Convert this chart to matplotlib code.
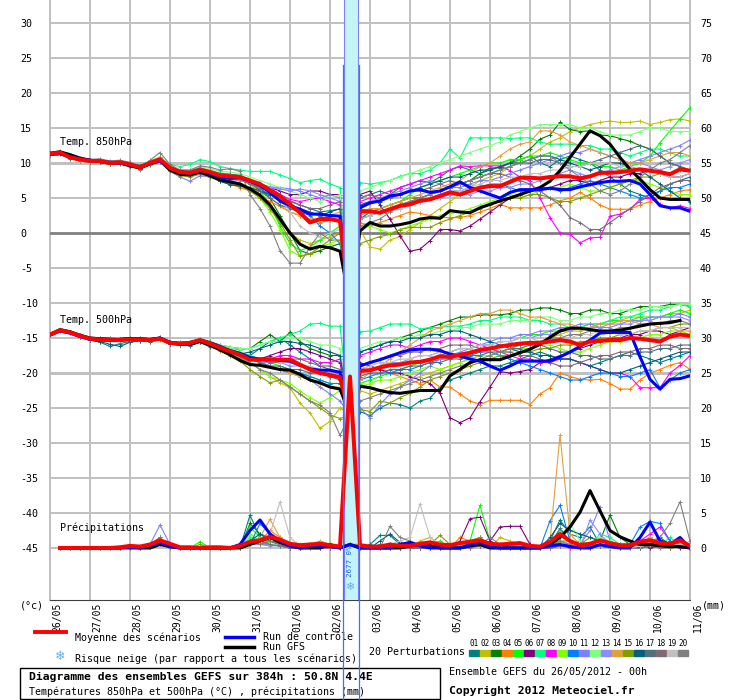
import numpy as np
import matplotlib
matplotlib.use("Agg")
import matplotlib.pyplot as plt
from matplotlib.lines import Line2D
from matplotlib.patches import Rectangle
from matplotlib.transforms import blended_transform_factory

plt.rcParams["font.family"] = ["DejaVu Sans Mono", "DejaVu Sans"]


def arr(s):
    return np.array(s.split(), dtype=float)


# ---- data (6-hourly steps, 26/05 00h .. 11/06 00h) ----
dates = ["26/05", "27/05", "28/05", "29/05", "30/05", "31/05", "01/06", "02/06", "03/06",
         "04/06", "05/06", "06/06", "07/06", "08/06", "09/06", "10/06", "11/06"]
members = ["%02d" % k for k in range(1, 21)]
member_colors = ["#008080", "#c0c000", "#008000", "#ff8000", "#00ff00", "#800080", "#00ff80",
                 "#ff00ff", "#80ff00", "#0080ff", "#8080ff", "#80ff80", "#8c8cff", "#e0a040",
                 "#80a000", "#006080", "#507080", "#806878", "#c0c0c0", "#808080"]

# 850 hPa temperature (degC)
t850_mean = arr("11.3 11.5 10.8 10.5 10.3 10.3 10.0 10.1 9.8 9.4 10.0 10.5 9.3 8.7 8.6 9.0 8.7 8.2 8.1 8.0 7.5 7.0 6.1 5.3 4.1 2.9 1.5 2.0 2.0 1.7 -10 3.1 3.1 2.9 3.4 3.9 4.1 4.6 4.8 5.3 5.8 5.5 6.0 6.5 6.7 6.7 7.3 7.9 7.9 7.8 8.0 8.1 8.1 7.8 8.1 8.6 8.6 8.7 8.9 9.1 8.9 8.7 8.4 9.1 8.9")
t850_ctrl = arr("11.2 11.3 10.9 10.6 10.4 10.2 10.1 10.0 9.7 9.5 9.9 10.3 9.2 8.8 8.5 8.9 8.5 8.0 7.8 7.9 7.4 6.8 5.8 4.6 3.9 3.4 2.7 2.7 2.5 2.4 -10 3.6 4.3 4.6 5.3 5.5 6.0 6.2 5.8 6.0 6.6 7.3 6.5 6.0 5.5 5.0 5.8 6.2 6.2 6.2 6.4 6.2 6.2 6.6 6.9 7.2 7.4 7.4 7.5 7.0 5.5 3.9 3.6 3.6 3.1")
t850_gfs = arr("11.4 11.6 11.2 10.7 10.4 10.2 10.0 10.0 9.6 9.3 9.9 10.4 9.0 8.4 8.3 8.7 8.2 7.6 7.3 7.0 6.3 5.4 4.0 2.0 0.0 -1.6 -2.3 -1.9 -2.1 -2.6 -10 0.3 1.5 1.0 1.0 1.2 1.5 2.0 2.2 2.1 3.2 3.0 2.9 3.6 4.1 4.6 5.0 5.5 6.0 6.5 7.4 8.9 10.8 12.7 14.6 13.9 12.7 10.8 9.1 7.7 6.2 5.0 4.8 4.8 4.8")
t850_members = [
    arr("11.2 11.4 10.6 10.4 10.2 10.1 9.8 10.0 9.6 9.2 9.8 10.2 9.0 8.3 8.2 8.6 8.0 7.4 7.0 6.7 6.5 6.0 5.5 5.0 4.6 4.0 3.5 3.0 3.2 3.4 -10 5.0 5.5 6.0 5.5 6.5 7.0 7.5 7.2 8.0 9.0 9.5 9.0 8.5 9.0 9.5 10.0 10.5 11.0 10.0 9.5 10.5 11.0 10.5 10.0 9.0 8.0 7.0 6.0 5.5 5.0 6.0 7.0 7.5 8.0"),
    arr("11.3 11.6 10.9 10.6 10.4 10.4 10.2 10.3 10.0 9.6 10.3 10.8 9.5 9.0 8.8 9.3 9.0 8.5 8.3 8.0 7.0 5.5 3.5 1.5 0.0 -1.0 -1.5 -1.0 -0.5 0.0 -10 0.5 -2.0 -2.3 -1.0 -0.5 0.5 1.5 2.5 3.5 4.5 5.5 6.5 7.5 8.0 8.5 9.5 10.5 11.0 12.0 13.0 13.6 14.5 15.0 15.5 15.8 16.0 15.8 15.8 16.0 15.5 15.8 16.2 16.3 16.0"),
    arr("11.2 11.5 10.7 10.3 10.1 10.4 10.1 10.2 9.9 9.5 10.2 10.6 9.4 8.9 8.8 9.2 8.8 8.4 8.3 8.0 7.2 6.5 5.0 2.5 0.0 -2.5 -3.0 -2.5 -2.0 -1.5 -10 2.0 3.0 3.5 4.0 4.5 5.0 5.0 5.5 6.0 6.5 7.0 7.5 8.5 9.3 9.3 10.0 11.0 12.0 13.4 14.0 15.8 14.8 14.5 14.6 14.0 13.9 13.5 13.1 12.5 12.0 11.0 10.0 9.5 9.0"),
    arr("11.3 11.4 10.8 10.5 10.3 10.2 9.9 10.1 9.8 9.4 10.0 10.6 9.4 8.8 8.7 9.1 8.5 7.8 7.0 6.5 6.0 5.2 4.5 3.8 3.0 2.5 2.0 1.5 1.8 2.0 -10 1.5 1.0 1.5 2.0 2.5 3.0 2.8 2.5 2.2 2.2 2.2 2.5 3.0 3.5 4.1 3.6 3.6 3.6 3.6 4.0 4.6 5.0 5.8 5.0 4.0 3.4 3.4 3.4 4.0 4.5 5.0 5.5 6.0 6.2"),
    arr("11.3 11.5 10.8 10.6 10.4 10.3 10.0 10.0 9.7 9.4 9.9 10.3 9.4 8.9 8.8 9.3 8.9 8.6 8.4 8.2 7.5 6.0 4.0 1.0 -1.5 -2.5 -2.0 -1.0 0.0 1.0 -10 3.5 3.0 3.5 4.0 4.5 5.5 6.5 7.0 7.5 8.0 8.5 9.0 9.5 10.0 10.0 10.5 10.5 11.0 11.0 11.5 11.0 10.5 10.0 10.0 9.5 9.5 9.0 9.5 10.0 11.0 12.9 14.6 16.3 17.9"),
    arr("11.4 11.5 10.9 10.6 10.4 10.4 10.2 10.2 9.9 9.5 10.1 10.5 9.4 8.9 8.8 9.2 8.8 8.4 8.3 8.2 7.6 7.0 6.5 6.0 5.5 5.5 6.0 6.0 5.5 5.5 -10 5.5 6.0 4.0 2.0 -0.4 -2.6 -2.3 -1.1 0.5 0.5 0.3 1.0 2.0 3.0 4.0 5.0 5.5 6.0 6.0 6.5 7.0 7.5 7.5 7.0 7.5 8.0 8.0 8.5 8.5 9.0 8.5 8.0 8.0 8.5"),
    arr("11.3 11.5 10.9 10.6 10.5 10.4 10.2 10.3 10.0 9.7 10.3 10.8 9.8 9.5 9.8 10.5 10.2 9.5 9.2 9.0 8.8 8.8 8.8 8.3 7.8 7.2 7.5 7.7 7.0 6.5 -10 7.2 7.0 7.2 7.5 8.1 8.5 8.5 9.0 10.0 12.0 10.7 13.6 13.6 13.6 13.6 13.5 13.6 13.6 13.0 12.7 12.7 12.7 12.5 12.5 12.0 12.0 11.5 11.0 11.5 12.0 12.0 11.5 11.0 11.0"),
    arr("11.2 11.4 10.8 10.5 10.3 10.3 10.1 10.1 9.8 9.5 10.1 10.5 9.3 8.8 8.7 9.1 8.7 8.3 8.2 8.1 7.5 7.0 6.5 5.5 4.8 4.5 4.8 5.0 4.5 4.0 -10 4.5 5.0 5.5 6.0 6.5 7.0 7.5 8.0 8.5 9.0 9.6 9.5 9.6 9.6 9.6 8.9 8.0 7.4 5.0 2.2 0.0 -0.2 -1.4 -0.7 -0.6 2.4 2.7 3.4 4.8 5.0 4.1 3.6 3.9 3.5"),
    arr("11.3 11.5 10.7 10.4 10.2 10.2 9.9 10.0 9.7 9.3 9.9 10.4 9.1 8.5 8.3 8.7 8.3 7.8 7.5 7.2 6.5 5.0 3.0 0.5 -2.5 -3.3 -3.0 -2.0 -1.5 -1.0 -10 0.5 1.0 0.5 0.0 0.5 1.0 1.5 2.0 2.5 2.8 3.0 3.5 4.0 4.5 5.0 5.5 5.0 5.5 6.0 6.5 6.5 7.0 6.5 6.0 6.0 6.5 7.0 7.5 7.5 7.0 6.5 6.0 5.5 5.5"),
    arr("11.2 11.3 10.7 10.4 10.2 10.2 10.0 10.0 9.7 9.3 9.8 10.2 9.0 8.5 8.4 8.8 8.4 8.0 7.8 7.6 7.0 6.3 5.5 4.5 3.5 3.0 2.5 1.0 0.0 -1.5 -10 2.0 2.5 3.0 3.5 4.0 4.5 4.5 5.0 5.5 6.0 6.0 6.5 6.5 7.0 7.0 6.5 6.0 6.0 6.5 6.5 6.0 6.5 7.0 7.5 7.0 6.5 6.0 5.5 5.0 5.5 6.0 6.5 6.5 7.0"),
    arr("11.3 11.4 10.8 10.4 10.2 10.2 9.9 10.0 9.6 9.2 9.8 10.2 8.8 8.0 7.4 8.2 8.0 7.7 7.6 7.5 7.3 7.0 6.6 6.5 6.3 6.0 5.5 5.0 5.5 5.0 -10 4.0 4.5 5.0 5.5 6.0 6.5 7.0 7.5 7.0 6.5 6.5 7.0 7.5 7.5 8.0 8.5 9.0 9.5 10.0 10.5 11.0 11.5 11.5 12.0 11.5 11.0 10.5 10.0 10.5 11.0 11.5 12.0 12.5 13.3"),
    arr("11.3 11.5 10.8 10.5 10.3 10.3 10.1 10.2 9.9 9.5 10.1 10.6 9.5 9.0 9.0 9.5 9.2 8.8 8.7 8.5 8.0 7.5 7.0 6.5 6.0 5.5 5.0 4.5 5.0 5.5 -10 6.0 6.5 7.0 7.5 8.0 8.5 9.0 9.5 10.0 10.5 11.0 11.5 12.0 12.5 13.0 14.0 14.5 15.0 15.5 15.5 15.5 15.5 15.0 15.0 14.5 14.0 14.0 14.0 14.5 15.0 15.0 14.5 14.5 14.5"),
    arr("11.2 11.4 10.8 10.5 10.4 10.3 10.0 10.1 9.8 9.4 9.9 10.3 9.2 8.6 8.5 8.8 8.5 8.1 8.0 7.8 7.0 6.5 6.5 6.3 6.0 6.3 6.0 5.5 5.0 4.5 -10 2.5 3.0 3.0 3.5 3.5 4.0 4.5 5.0 5.0 5.5 5.5 5.5 6.0 6.0 6.5 6.5 7.0 7.0 7.5 8.0 8.5 9.0 8.5 8.0 8.5 9.0 9.5 10.0 10.0 9.5 9.0 9.5 10.0 10.5"),
    arr("11.3 11.5 10.8 10.5 10.3 10.4 10.1 10.2 9.9 9.6 10.2 10.9 9.6 9.0 8.9 9.3 8.8 8.2 7.9 7.6 7.0 6.0 5.0 4.0 3.0 2.5 2.0 2.0 2.5 3.0 -10 3.0 3.5 3.5 4.0 4.5 5.0 5.5 6.0 6.5 7.0 7.5 8.5 9.5 10.0 11.0 12.0 12.7 13.0 14.6 14.6 14.0 13.0 12.5 12.0 11.5 11.0 10.5 10.0 10.0 10.5 11.0 11.5 11.5 11.0"),
    arr("11.2 11.4 10.7 10.3 10.1 10.1 9.8 9.9 9.5 9.1 9.7 10.1 8.8 8.2 8.0 8.4 8.0 7.5 7.2 6.8 6.0 5.0 3.5 1.5 -1.0 -3.3 -3.0 -2.0 -1.0 -1.0 -10 -1.5 -1.0 -0.5 -0.2 0.5 0.8 0.8 0.8 1.5 2.0 2.5 3.0 3.5 4.0 4.5 5.0 5.0 5.5 5.5 5.0 4.5 4.5 5.0 5.5 6.0 6.5 7.0 7.5 8.0 8.0 8.5 8.5 9.0 9.0"),
    arr("11.3 11.4 10.7 10.4 10.2 10.2 9.9 10.0 9.6 9.2 9.8 10.3 9.0 8.4 8.3 8.6 8.1 7.4 6.9 6.7 6.5 6.0 5.5 5.0 4.0 3.5 3.0 2.5 3.0 3.5 -10 4.0 4.5 4.5 5.0 5.5 6.0 6.5 7.0 7.5 8.0 8.0 8.5 9.0 9.0 9.5 10.0 10.0 10.5 11.0 11.0 10.5 10.0 9.5 9.0 9.5 10.0 10.0 9.5 9.0 8.0 7.0 6.0 5.0 4.5"),
    arr("11.4 11.6 10.9 10.6 10.5 10.4 10.2 10.3 10.0 9.6 10.2 10.7 9.5 8.9 8.9 9.3 8.9 8.5 8.4 8.2 7.3 6.0 5.0 4.0 3.5 3.0 2.8 2.5 2.5 2.5 -10 2.0 2.5 3.0 3.5 4.0 4.5 5.0 5.5 6.0 6.5 7.0 7.5 8.0 8.5 9.0 9.5 10.0 10.0 10.5 10.5 10.0 9.5 9.5 10.0 10.5 11.0 11.5 12.0 12.5 12.0 11.0 10.0 9.5 9.0"),
    arr("11.3 11.5 10.9 10.5 10.3 10.3 10.0 10.1 9.7 9.3 9.9 10.4 9.2 8.6 8.5 8.9 8.6 8.1 7.9 7.7 7.0 6.5 6.0 5.0 4.5 4.0 3.5 3.5 4.0 4.5 -10 5.0 5.5 5.0 5.0 5.5 6.0 6.0 6.5 7.0 7.5 7.0 7.5 8.0 8.5 8.5 8.0 7.5 7.0 6.0 5.0 4.0 2.2 1.5 0.5 0.5 1.5 2.5 3.5 4.5 5.5 6.5 7.0 7.5 7.5"),
    arr("11.3 11.5 10.8 10.5 10.3 10.3 10.0 10.1 9.8 9.4 10.0 10.5 9.3 8.7 8.6 9.0 8.7 8.2 8.1 8.0 7.5 7.0 6.0 5.0 3.0 1.0 0.0 -0.5 0.0 0.5 -10 2.0 2.5 3.0 3.0 3.5 4.0 4.5 5.0 5.5 6.0 6.0 6.5 7.0 7.5 7.5 8.0 8.0 8.5 8.5 9.0 9.0 9.5 9.5 10.0 10.0 10.0 9.5 9.5 9.0 9.0 8.5 8.0 8.0 8.5"),
    arr("11.4 11.7 11.0 10.7 10.5 10.6 10.3 10.4 10.1 9.0 10.4 11.5 9.8 9.0 9.0 9.6 9.4 9.0 9.2 8.8 5.5 3.5 1.0 -2.5 -4.3 -4.3 -2.0 0.0 -1.0 0.0 -10 1.0 1.5 2.0 3.0 4.0 4.5 5.0 5.5 6.0 6.5 7.0 7.5 8.0 8.5 9.0 9.5 10.0 10.5 11.0 11.0 10.0 9.0 8.0 7.0 6.0 5.5 6.0 7.0 8.0 9.0 10.0 10.5 11.5 12.5"),
]

# 500 hPa temperature (degC)
t500_mean = arr("-14.5 -13.9 -14.2 -14.7 -15.1 -15.2 -15.3 -15.3 -15.2 -15.2 -15.3 -15.1 -15.7 -15.8 -15.7 -15.3 -15.8 -16.4 -16.9 -17.4 -18.1 -18.1 -18.1 -18.1 -18.1 -18.8 -19.5 -20.0 -20.3 -20.6 -26 -19.7 -19.6 -19.2 -18.9 -18.8 -18.5 -18.4 -18.1 -17.6 -17.7 -17.4 -17.1 -16.7 -16.5 -16.2 -16.0 -15.8 -15.7 -15.7 -15.5 -15.3 -15.5 -16.0 -15.5 -15.4 -15.3 -15.3 -15.0 -15.1 -15.3 -15.5 -14.8 -14.5 -14.7")
t500_ctrl = arr("-14.6 -14.0 -14.3 -14.8 -15.2 -15.3 -15.3 -15.2 -15.1 -15.2 -15.3 -15.0 -15.6 -15.8 -15.7 -15.3 -15.7 -16.2 -16.8 -17.2 -17.8 -18.0 -18.0 -18.2 -18.3 -18.9 -19.4 -19.6 -19.6 -19.9 -26 -19.0 -18.5 -18.1 -17.6 -17.1 -16.7 -16.6 -16.6 -16.8 -17.3 -17.6 -18.0 -18.3 -19.0 -19.6 -19.0 -18.3 -18.3 -18.3 -18.3 -17.7 -17.0 -16.2 -15.3 -14.3 -14.2 -14.2 -14.2 -17.7 -20.9 -22.3 -20.9 -20.8 -20.4")
t500_gfs = arr("-14.5 -13.8 -14.1 -14.6 -15.0 -15.1 -15.2 -15.2 -15.1 -15.1 -15.2 -15.0 -15.7 -15.9 -15.9 -15.5 -16.0 -16.7 -17.4 -18.2 -18.8 -18.9 -19.2 -19.5 -19.6 -20.2 -21.0 -21.4 -22.0 -22.3 -26 -21.9 -22.1 -22.5 -22.8 -22.9 -22.7 -22.5 -22.5 -22.5 -20.4 -19.5 -18.5 -18.1 -18.1 -18.1 -17.6 -17.1 -16.6 -15.9 -14.9 -14.0 -13.6 -13.6 -13.8 -14.0 -14.0 -13.9 -13.6 -13.3 -13.0 -12.9 -12.8 -12.5 nan")
t500_members = [
    arr("-14.5 -13.9 -14.3 -14.8 -15.3 -15.6 -16.2 -15.8 -15.5 -15.4 -15.4 -15.2 -15.8 -16.0 -16.1 -15.6 -16.3 -16.7 -17.0 -17.3 -17.5 -16.5 -15.5 -15.0 -16.0 -17.0 -18.0 -19.0 -19.5 -20.0 -26 -25.5 -26.1 -25.0 -24.3 -24.5 -25.0 -24.0 -23.6 -22.0 -21.0 -20.5 -20.0 -19.5 -19.0 -19.0 -18.5 -18.0 -17.5 -17.0 -17.5 -18.0 -18.0 -18.5 -19.0 -18.5 -18.0 -17.5 -17.0 -17.5 -18.0 -18.5 -18.0 -17.5 -17.0"),
    arr("-14.5 -13.9 -14.2 -14.7 -15.0 -15.1 -15.2 -15.3 -15.3 -15.4 -15.5 -15.3 -15.9 -16.0 -15.9 -15.5 -16.0 -16.7 -17.4 -18.0 -18.5 -19.5 -20.5 -21.4 -22.1 -24.3 -25.7 -27.9 -26.9 -25.0 -26 -22.5 -23.0 -22.5 -22.0 -21.5 -21.0 -20.5 -20.0 -19.5 -19.0 -18.5 -18.0 -17.5 -17.5 -17.0 -16.5 -16.0 -15.5 -15.5 -15.0 -14.5 -14.0 -14.0 -13.5 -13.0 -13.0 -12.5 -12.0 -12.0 -12.5 -12.0 -11.5 -11.5 -11.0"),
    arr("-14.5 -13.9 -14.2 -14.6 -15.0 -15.0 -15.0 -15.1 -15.0 -15.0 -15.1 -14.9 -15.5 -15.6 -15.5 -15.1 -15.5 -16.0 -16.3 -16.5 -16.5 -15.5 -14.5 -15.5 -14.2 -15.5 -16.5 -17.0 -17.5 -17.5 -26 -17.0 -16.5 -16.0 -15.5 -15.0 -14.5 -14.0 -13.5 -13.0 -12.5 -12.0 -12.0 -11.7 -11.7 -11.7 -11.5 -11.0 -11.0 -10.7 -10.7 -11.0 -11.5 -11.5 -11.0 -11.0 -11.5 -11.5 -11.0 -10.5 -10.5 -10.5 -10.2 -10.2 -10.5"),
    arr("-14.5 -13.9 -14.1 -14.6 -15.0 -15.1 -15.1 -15.2 -15.1 -15.1 -15.2 -15.0 -15.6 -15.7 -15.6 -15.2 -15.7 -16.3 -16.8 -17.3 -17.8 -18.0 -18.3 -18.5 -18.3 -19.0 -19.5 -20.0 -20.5 -21.0 -26 -19.5 -19.0 -19.5 -20.0 -20.5 -21.0 -21.5 -21.0 -22.0 -22.0 -23.0 -24.0 -24.5 -23.9 -23.9 -23.9 -23.9 -24.5 -23.0 -22.1 -20.0 -20.5 -20.9 -21.0 -20.9 -21.5 -22.3 -22.3 -21.0 -20.0 -19.5 -18.9 -18.5 -19.5"),
    arr("-14.5 -13.9 -14.2 -14.7 -15.1 -15.1 -15.2 -15.2 -15.1 -15.1 -15.2 -15.0 -15.6 -15.7 -15.6 -15.2 -15.7 -16.2 -16.6 -17.0 -17.5 -18.0 -18.5 -19.0 -19.5 -20.0 -20.5 -21.0 -21.5 -21.5 -26 -21.5 -21.0 -20.5 -20.0 -19.5 -19.0 -18.5 -18.0 -17.5 -17.0 -16.5 -16.5 -16.0 -16.0 -15.5 -15.5 -15.0 -14.5 -14.5 -14.0 -14.0 -13.5 -13.5 -13.0 -13.0 -12.5 -12.5 -12.5 -12.0 -12.0 -12.0 -11.5 -11.0 -11.5"),
    arr("-14.5 -13.9 -14.2 -14.7 -15.1 -15.3 -15.4 -15.4 -15.3 -15.3 -15.4 -15.2 -15.8 -15.9 -15.8 -15.4 -15.9 -16.5 -17.0 -17.5 -17.8 -18.0 -17.5 -17.0 -16.5 -16.5 -17.0 -17.5 -18.0 -18.5 -26 -18.5 -19.0 -19.5 -20.0 -20.0 -20.5 -21.0 -21.5 -22.9 -26.4 -27.1 -26.4 -24.1 -22.0 -19.8 -20.0 -19.8 -19.5 -18.5 -18.0 -17.5 -17.0 -16.5 -16.0 -15.5 -15.0 -15.0 -14.5 -14.5 -14.0 -14.0 -14.5 -14.0 -13.5"),
    arr("-14.5 -13.9 -14.2 -14.7 -15.1 -15.2 -15.3 -15.3 -15.2 -15.2 -15.3 -15.1 -15.7 -15.8 -15.7 -15.3 -15.8 -16.2 -16.5 -16.7 -16.5 -16.0 -15.5 -15.0 -14.5 -14.0 -13.0 -12.9 -13.3 -13.3 -26 -14.1 -14.0 -13.5 -13.0 -13.0 -13.0 -13.7 -13.5 -13.5 -13.3 -13.3 -13.0 -12.5 -12.5 -12.0 -12.0 -12.0 -12.5 -12.5 -13.0 -13.0 -13.5 -13.5 -13.0 -13.0 -12.5 -12.0 -12.0 -11.5 -11.0 -11.0 -10.5 -10.2 -10.5"),
    arr("-14.5 -13.9 -14.2 -14.7 -15.2 -15.3 -15.3 -15.4 -15.2 -15.2 -15.3 -15.1 -15.7 -15.8 -15.8 -15.4 -15.9 -16.5 -17.0 -17.5 -18.0 -18.0 -18.0 -17.5 -17.5 -18.0 -18.0 -18.5 -18.5 -18.0 -26 -17.5 -17.0 -16.5 -16.0 -16.0 -16.5 -16.0 -15.5 -15.5 -15.0 -15.0 -15.5 -16.0 -16.5 -17.0 -17.5 -18.0 -18.0 -18.5 -18.5 -18.0 -18.0 -18.5 -19.0 -19.5 -20.0 -20.0 -20.5 -22.1 -22.1 -22.1 -20.0 -18.9 -17.5"),
    arr("-14.5 -13.9 -14.2 -14.7 -15.1 -15.2 -15.2 -15.3 -15.2 -15.2 -15.3 -15.1 -15.7 -15.9 -15.9 -15.5 -16.0 -16.6 -17.2 -17.8 -18.5 -19.5 -20.5 -21.0 -21.5 -22.6 -23.5 -24.3 -23.5 -22.5 -26 -22.0 -21.5 -21.0 -21.0 -20.5 -20.0 -19.5 -19.0 -19.5 -19.0 -18.5 -18.0 -17.5 -17.5 -17.0 -17.0 -16.5 -16.5 -16.0 -16.0 -16.5 -17.0 -17.0 -16.5 -16.0 -15.5 -15.5 -15.0 -15.0 -14.5 -14.5 -14.0 -14.0 -14.5"),
    arr("-14.5 -13.9 -14.2 -14.7 -15.1 -15.2 -15.3 -15.3 -15.2 -15.2 -15.3 -15.1 -15.7 -15.8 -15.7 -15.3 -15.8 -16.4 -16.9 -17.4 -18.0 -18.5 -19.0 -19.5 -20.0 -20.0 -20.5 -21.0 -21.5 -21.5 -26 -21.0 -20.5 -20.0 -20.0 -19.5 -19.5 -19.0 -18.5 -18.0 -18.0 -17.5 -17.5 -17.0 -17.0 -17.5 -18.0 -18.5 -19.0 -19.5 -20.0 -20.5 -21.0 -21.0 -20.5 -20.0 -20.0 -20.5 -20.5 -20.0 -19.5 -22.1 -21.0 -20.0 -19.5"),
    arr("-14.5 -13.9 -14.2 -14.7 -15.1 -15.2 -15.3 -15.3 -15.2 -15.2 -15.3 -15.1 -15.7 -15.8 -15.7 -15.4 -16.0 -16.6 -17.1 -17.6 -18.0 -18.5 -19.0 -19.5 -20.0 -20.5 -21.0 -22.0 -23.0 -24.0 -26 -25.0 -26.4 -24.5 -23.0 -22.0 -21.0 -20.0 -19.0 -18.0 -17.5 -17.0 -16.5 -16.0 -15.5 -15.0 -15.0 -14.5 -14.5 -14.0 -14.0 -13.5 -13.5 -13.0 -13.0 -13.5 -13.5 -13.0 -12.5 -12.5 -12.0 -12.0 -12.0 -11.5 -12.0"),
    arr("-14.5 -13.9 -14.2 -14.7 -15.1 -15.2 -15.3 -15.3 -15.2 -15.2 -15.3 -15.1 -15.7 -15.8 -15.7 -15.3 -15.7 -16.0 -16.3 -16.5 -16.5 -16.0 -15.5 -15.5 -15.0 -15.0 -15.5 -16.0 -16.0 -16.5 -26 -16.5 -16.0 -15.5 -15.5 -15.0 -15.0 -14.5 -14.5 -14.0 -14.0 -13.5 -13.5 -13.0 -13.0 -13.0 -12.5 -12.5 -12.5 -12.0 -12.0 -12.5 -12.5 -12.0 -12.0 -11.5 -11.5 -11.0 -11.0 -11.0 -10.5 -10.5 -10.5 -10.2 -10.2"),
    arr("-14.4 -13.9 -14.3 -14.8 -15.2 -15.1 -15.2 -15.4 -15.3 -15.1 -15.2 -15.0 -15.8 -15.9 -15.6 -15.2 -15.9 -16.5 -17.0 -17.3 -18.0 -18.5 -18.5 -18.5 -19.0 -19.0 -19.5 -19.5 -20.0 -20.0 -26 -19.5 -19.5 -19.0 -18.5 -18.5 -18.0 -17.5 -17.5 -17.0 -17.0 -16.5 -16.5 -16.0 -16.0 -15.5 -15.5 -15.0 -15.0 -14.5 -14.5 -14.0 -14.0 -13.5 -13.5 -13.5 -13.0 -13.0 -13.0 -12.5 -12.5 -12.0 -12.0 -12.0 -12.5"),
    arr("-14.5 -13.9 -14.2 -14.7 -15.0 -15.1 -15.2 -15.2 -15.1 -15.1 -15.2 -15.0 -15.6 -15.7 -15.6 -15.2 -15.7 -16.3 -16.8 -17.4 -18.0 -18.5 -19.0 -19.5 -20.0 -20.5 -21.0 -21.5 -22.0 -22.0 -26 -21.0 -20.0 -19.0 -18.0 -17.0 -16.0 -15.0 -14.0 -13.5 -13.0 -12.5 -12.0 -11.5 -11.5 -11.0 -11.0 -11.5 -12.0 -12.0 -12.5 -13.0 -13.0 -13.5 -13.5 -13.0 -13.0 -12.5 -12.5 -13.0 -13.0 -13.5 -13.5 -14.0 -14.0"),
    arr("-14.5 -13.9 -14.2 -14.7 -15.1 -15.2 -15.2 -15.3 -15.2 -15.3 -15.4 -15.2 -15.8 -16.0 -16.0 -15.6 -16.1 -16.8 -17.5 -18.3 -19.5 -20.5 -21.4 -21.0 -22.0 -23.0 -24.0 -25.0 -26.0 -26.5 -26 -25.2 -25.5 -24.0 -24.3 -23.5 -22.9 -22.0 -21.0 -20.5 -20.0 -19.5 -19.0 -18.5 -18.0 -17.5 -17.5 -17.0 -17.0 -16.5 -16.5 -16.0 -16.0 -15.5 -15.5 -15.0 -15.0 -14.5 -14.5 -14.0 -14.0 -13.5 -13.5 -13.0 -13.0"),
    arr("-14.5 -13.9 -14.2 -14.8 -15.3 -15.5 -15.9 -16.2 -15.6 -15.4 -15.5 -15.2 -15.9 -16.0 -16.0 -15.6 -16.1 -16.6 -17.0 -17.3 -17.0 -16.5 -16.0 -15.5 -15.5 -15.8 -16.0 -16.5 -17.0 -17.5 -26 -17.0 -16.5 -16.0 -15.5 -15.5 -15.0 -15.0 -14.5 -14.5 -14.0 -14.0 -14.5 -15.0 -15.5 -16.0 -16.5 -17.0 -17.0 -17.5 -17.5 -18.0 -18.0 -18.5 -19.0 -19.5 -20.0 -20.0 -19.5 -19.0 -18.5 -18.0 -17.5 -17.0 -17.0"),
    arr("-14.6 -14.0 -14.2 -14.6 -15.0 -15.2 -15.3 -15.2 -15.1 -15.3 -15.4 -15.2 -15.6 -15.7 -15.8 -15.4 -15.7 -16.3 -16.8 -17.5 -18.0 -18.5 -19.0 -19.0 -19.5 -19.5 -20.0 -20.0 -20.5 -21.0 -26 -20.5 -20.0 -20.0 -19.5 -19.5 -19.0 -19.0 -18.5 -18.5 -18.0 -18.0 -17.5 -17.5 -17.0 -17.0 -16.5 -16.5 -16.0 -16.0 -16.5 -17.0 -17.0 -17.5 -17.5 -18.0 -18.0 -17.5 -17.5 -17.0 -17.0 -16.5 -16.5 -16.0 -16.0"),
    arr("-14.5 -13.8 -14.2 -14.7 -15.1 -15.2 -15.3 -15.3 -15.3 -15.2 -15.3 -15.2 -15.7 -15.8 -15.7 -15.4 -15.8 -16.4 -16.9 -17.4 -18.0 -18.0 -18.5 -18.5 -18.0 -18.0 -18.5 -19.0 -19.0 -19.5 -26 -19.0 -18.5 -18.0 -17.5 -17.5 -17.0 -17.0 -16.5 -16.5 -16.0 -16.0 -16.0 -16.5 -16.5 -17.0 -17.0 -17.5 -17.5 -18.0 -18.5 -19.0 -19.0 -18.5 -18.0 -17.5 -17.5 -17.0 -17.0 -16.5 -16.5 -16.0 -16.0 -16.5 -16.5"),
    arr("-14.5 -13.9 -14.2 -14.7 -15.1 -15.2 -15.3 -15.3 -15.2 -15.2 -15.3 -15.1 -15.7 -15.8 -15.7 -15.3 -15.8 -16.4 -16.9 -17.4 -18.0 -18.0 -18.0 -18.5 -18.5 -19.0 -19.0 -19.5 -19.5 -20.0 -26 -19.5 -19.0 -18.5 -18.5 -18.0 -18.0 -17.5 -17.5 -17.0 -17.0 -16.5 -16.5 -16.0 -16.0 -15.5 -15.5 -15.0 -15.0 -15.5 -15.5 -15.0 -15.0 -14.5 -14.5 -14.0 -14.0 -14.5 -14.5 -14.0 -14.0 -13.5 -13.5 -13.5 -13.5"),
    arr("-14.5 -13.9 -14.2 -14.7 -15.1 -15.2 -15.3 -15.3 -15.2 -15.2 -15.3 -15.1 -15.7 -15.8 -15.7 -15.3 -15.8 -16.4 -17.0 -17.8 -18.5 -19.5 -20.0 -21.0 -22.0 -23.0 -24.0 -24.6 -25.7 -28.9 -26 -24.0 -23.5 -23.0 -22.5 -22.0 -21.5 -21.0 -20.5 -20.0 -19.5 -19.0 -18.5 -18.0 -17.5 -17.0 -16.5 -16.0 -15.5 -15.5 -15.0 -15.0 -14.5 -14.5 -14.0 -14.0 -14.0 -13.5 -13.5 -13.0 -13.0 -13.0 -12.5 -12.5 -13.0"),
]

# precipitation (mm per 6h)
pr_mean = arr("nan 0 0 0  0 0 0 0.1  0.3 0.2 0.5 1.1  0.6 0.1 0.1 0  0.1 0.1 0 0.3  0.9 1.1 1.6 1.2  0.6 0.4 0.5 0.6  0.4 0.2 24.5 0.4  0.2 0.2 0.5 0.3  0.3 0.6 0.8 0.5  0.4 0.7 0.9 1.1  0.6 0.5 0.6 0.7  0.3 0.2 0.9 2.0  1.0 0.4 0.6 1.1  0.7 0.4 0.4 0.9  1.1 0.7 0.6 1.1  0.3")
pr_ctrl = arr("nan 0 0 0  0 0 0 0  0 0 0.3 0.8  0.2 0 0 0  0 0 0 0.5  2.5 4.0 2.0 1.0  0.3 0 0.2 0.3  0.2 0 0.5 0  0 0 0 0.5  0.8 0.3 0 0  0 0 0.5 0.8  0.2 0 0 0  0 0 0.3 0.5  0.2 0 0 0.5  0.2 0 0 1.5  3.7 1.0 0.5 1.5  0")
pr_gfs = arr("nan 0 0 0  0 0 0 0  0.2 0 0 0.5  0.2 0 0 0  0 0 0 0  0.5 1.0 1.5 0.8  0.3 0 0 0  0.5 0 0.5 0  0 0 0 0  0.3 0.5 0.5 0  0 0 0.3 0.5  0 0 0 0  0 0 0.5 1.5  3.0 5.1 8.2 5.3  2.5 1.6 1.0 0.5  0.5 0.3 0.2 0.2  0")
pr_members = [
    arr("nan 0 0 0  0 0 0 0  0 0 0.5 1.5  0 0 0 0  0 0 0 0  4.7 1.5 0.8 1.0  0.5 0 0.3 0  0 0 0.5 0  0.5 1.8 1.8 0.5  0 0 0 0  0 0.5 1.0 1.5  0.3 0 0 0  0 0 1.0 4.0  2.0 1.5 3.0 0.5  0 0.5 0 0  1.0 0.5 0 0.3  0"),
    arr("nan 0 0 0  0 0 0 0  0 0.3 0.5 1.0  0.3 0 0 0  0 0 0 0  1.0 0.5 1.5 0.8  0.3 0.5 0.5 0.8  0.5 0 0.5 0.5  0 0 0.5 0.3  0 1.0 1.5 0.5  0 0 0.5 0.5  0 1.5 1.0 0.5  0 0 0.5 0.5  0.5 0 0.3 0.5  0.3 0 0 0.5  0.5 1.5 0 0.5  0"),
    arr("nan 0 0 0  0 0 0 0  0 0 0.3 0.8  0 0 0 0  0 0 0 0  3.5 2.0 1.5 1.0  0.5 0 0 0.3  0.3 0 0.5 0  0 0 0 0  0 0.5 0 0  0.3 0 0.5 1.0  0.5 0 0 0.3  0 0 0.5 1.0  0.5 1.0 0.5 1.0  4.7 1.5 0.5 0  0.3 1.5 0.5 0.3  0"),
    arr("nan 0 0 0  0 0 0 0  0 0 0.3 1.0  0 0 0 0  0 0 0 0  0.5 1.0 2.5 1.5  0.5 0.3 0.5 1.0  0.5 0 0.5 0.3  0 0 0.5 0  0 0.3 0.5 0  0 1.5 1.0 0.5  0 0 0.5 0.3  0 0 0.3 0.8  0.5 0 0.5 0.3  0 0 0.3 0.5  1.5 0.5 0.3 0.3  0"),
    arr("nan 0 0 0  0 0 0 0  0 0 0.5 1.0  0.3 0 0 0.9  0 0 0 0.3  3.0 1.5 1.0 0.5  0.3 0 0.5 0.5  0.5 0 0.5 0  0 0 0 0.5  0 0 0.5 1.0  0 0.3 1.0 6.1  1.0 0 0 0  0 0 0.3 1.0  0.5 0 0.3 0.5  0.3 0 0 0.3  0.5 0.3 0.5 0.8  0"),
    arr("nan 0 0 0  0 0 0 0  0 0 0.2 0.5  0 0 0 0  0 0 0 0  0.5 1.0 0.5 0.3  0 0 0.3 0.5  0.3 0 0.5 0.5  0 0 0 0  0.3 0.5 0.8 0  0 1.0 4.2 4.4  1.0 3.0 3.1 3.1  0.5 0 0 0.3  0.5 0 0 0.3  0 0 0.3 0.5  0 0.3 0.5 0  0"),
    arr("nan 0 0 0  0 0 0 0  0 0 0.3 0.8  0 0 0 0  0 0 0 0  1.5 1.0 1.0 0.5  0.3 0 0 0.5  0.5 0 0.5 0  0 0 0.3 0.3  0 0 0.5 0.3  0 0 0.5 0.5  0 0 0.5 0.3  0 0 0.5 2.5  1.0 0.5 0.3 2.0  1.5 0.5 0 0.3  0.5 0.3 1.5 0.5  0"),
    arr("nan 0 0 0  0 0 0 0  0 0 0.3 0.5  0 0 0 0  0 0 0 0  0.5 0.5 1.0 0.5  0.3 0 0 0  0 0 0.5 0  0 0 0 0.3  0.5 0 0 0  0 0 0.3 0.3  0 0 0 0  0 0 0.3 0.5  0 0 0.3 0.5  0.5 0 0 1.0  2.0 3.0 1.0 0.5  0"),
    arr("nan 0 0 0  0 0 0 0  0 0 0.5 1.5  0 0 0 0  0 0 0 0  2.0 1.0 0.8 0.5  0.5 0 0.5 0.8  0.5 0 0.5 0.5  0 0 0 0.3  0 0 0.5 0.3  0 0.5 0.5 1.0  0.3 0 0 0.5  0 0 0.5 1.0  0.5 0 0.5 1.0  0.5 0 0.3 0.5  0.5 0.3 0.3 1.0  0"),
    arr("nan 0 0 0  0 0 0 0  0 0 0.3 1.0  0 0 0 0  0 0 0 0  0.5 3.5 2.0 1.0  0.3 0 0 0.3  0.3 0 0.5 0  0 0 0.3 0  0 0 0 0  0 0 0.5 0.8  0 0 0 0  0 0 3.9 6.1  1.0 0.3 0.5 0.5  0 0 0.5 3.0  3.8 3.5 1.0 0.5  0"),
    arr("nan 0 0 0  0 0 0 0  0 0 0.5 3.3  0.5 0 0 0  0 0 0 0  1.0 0.5 0.5 0.3  0 0 0.3 0.3  0.3 0 0.5 0  0 0 0 0  0 0 0 0  0 0 0 0.5  0 0 0 0  0 0 0.3 0.5  0.3 0.5 2.5 5.9  1.0 0.3 0 0.5  1.5 0.5 0.3 0.5  0"),
    arr("nan 0 0 0  0 0 0 0  0 0 0.3 1.0  0 0 0 0  0 0 0 0  1.0 1.0 0.5 0.5  0 0 0 0.5  0.3 0 0.5 0  0 0 0.5 0.5  0 0 0.3 0  0 0.5 0.5 0.8  0 0 0 0  0 0 0.5 1.5  3.5 1.0 0.5 1.5  1.0 0 0 0.3  1.0 0.5 0.5 1.5  0"),
    arr("nan 0 0 0  0 0 0 0  0 0 0.3 1.5  0 0 0 0  0 0 0 0  0.5 0.5 0.3 0.3  0 0 0 0  0 0 0.5 0  0 0 0 0  0 0 0 0  0 0 0.3 0.3  0 0 0 0.3  0 0 0.3 0.5  0.3 0 4.0 2.0  0.5 0 0 0.3  0.5 0.3 0.3 0.5  0"),
    arr("nan 0 0 0  0 0 0 0  0 0 0.3 1.0  0 0 0 0  0 0 0 0  0.5 1.5 4.1 1.5  0.5 0 0.3 0.5  0.3 0 0.5 0  0 0 0.5 0.5  0 0 0.5 0.3  0 0 0.5 0.8  0.5 0 0 0.3  0 0 1.0 16.1  2.0 0.5 0.3 0.5  0.3 0 0 0.5  1.5 0.5 0.3 0.3  0"),
    arr("nan 0 0 0  0 0 0 0  0 0 0.5 1.0  0.3 0 0 0.5  0 0 0 0.5  1.0 0.5 1.0 0.5  0.5 0 0.3 0.3  0.5 0 0.5 0.5  0 0 0.5 0.5  0 0.5 0.5 1.8  0.5 0.5 1.0 1.5  0.5 0 0.3 0.5  0 0 0.5 1.0  1.0 0.5 1.5 1.0  0.5 0 0.5 0.5  0.5 0.5 0.3 0.5  0"),
    arr("nan 0 0 0  0 0 0 0  0 0 0.3 0.5  0 0 0 0  0 0 0 0  1.0 2.0 1.0 0.5  0.3 0 0.3 0.3  0.3 0 0.5 0  0 1.0 2.0 0.8  0 0 0.3 0  0 0 0.3 0.5  0 0 0 0  0 0 1.5 3.5  2.5 2.0 1.5 1.0  0.5 0.3 0 0.3  0.5 0.3 0.5 0.3  0"),
    arr("nan 0 0 0  0 0 0 0  0 0 0.3 0.8  0 0 0 0  0 0 0 0  1.0 1.0 1.5 0.5  0 0 0 0.5  0.3 0 0.5 0  0 0.5 0.5 0  0 0 0 0  0 0 0.3 0.3  0 0 0 0  0 0 0.5 2.8  1.0 0.5 0.3 0.3  0 0 0.3 0.3  0.5 0.3 0.3 0.5  0"),
    arr("nan 0 0 0  0 0 0 0  0 0 0.3 0.5  0 0 0 0  0 0 0 0  0.5 1.0 0.5 0.3  0 0 0 0  0 0 0.5 0  0 0 0 0  0 0 0 0  0 0 0 0.3  0 0 0 0  0 0 0 0.3  0.3 0 0 0.3  0 0 0 0  0.3 0 0 0.3  0"),
    arr("nan 0 0 0  0 0 0 0  0 0 0.3 0.5  0 0 0 0  0 0 0 0  0.5 1.0 2.0 6.6  1.5 0.3 0 0.3  0.3 0 0.5 0  0 0 0.5 1.0  1.5 6.3 1.5 0.5  0 0 0.5 0.5  0 0 0 0.3  0 0 0.5 1.0  0.5 0 0.3 0.5  0 0 0 0.3  0.5 0.3 0.3 0.5  0"),
    arr("nan 0 0 0  0 0 0 0  0 0 0.5 1.5  0 0 0 0  0 0 0 0  1.0 0.5 1.0 0.5  0.5 0 0.3 0.5  0.3 0 0.5 0.3  0 0 3.1 1.5  1.0 0.5 0 0  0 0 0.3 0.5  1.5 0.5 0 0  0 0 0.3 1.0  0.5 0 0.3 0.5  0.3 0 0.3 0.5  1.0 1.5 3.5 6.6  1.0"),
]
snow_risk = "2677 0%"


def X(px):
    return px / 740.0


def Y(py):
    return 1.0 - py / 700.0


fig = plt.figure(figsize=(7.4, 7.0), dpi=100)
ax = fig.add_axes([X(50), Y(600), 640 / 740.0, 600 / 700.0])
ylo, yhi = -52.43, 33.29
ax.set_xlim(0, 64)
ax.set_ylim(ylo, yhi)
for s in ["top", "left", "right"]:
    ax.spines[s].set_visible(False)
ax.spines["bottom"].set_color("#404040")
ax.spines["bottom"].set_linewidth(0.8)
ax.set_xticks([])

yt = list(range(-45, 31, 5))
ax.set_yticks(yt, labels=[str(v) for v in yt], ha="left")
ax.tick_params(axis="y", length=0, pad=21.6, labelsize=7.2)

# grid
for k in range(len(dates)):
    ax.axvline(4 * k, color="#c0c0c0", lw=1.4, zorder=0, clip_on=False)
for v in yt:
    if v == 0:
        ax.axhline(v, color="#808080", lw=2.0, zorder=0.5)
    elif v in (10, -20):
        ax.axhline(v, color="#c0c0c0", lw=2.2, zorder=0)
    else:
        ax.axhline(v, color="#c0c0c0", lw=1.4, zorder=0)

# temperatures
for series_m, mean, ctrl, gfs in [(t850_members, t850_mean, t850_ctrl, t850_gfs),
                                  (t500_members, t500_mean, t500_ctrl, t500_gfs)]:
    for vals, col in zip(series_m, member_colors):
        ax.plot(np.arange(len(vals)), vals, color=col, lw=0.8, marker="+", ms=3, mew=0.7, zorder=2)
    ax.plot(np.arange(len(gfs)), gfs, color="black", lw=2.2, zorder=3)
    ax.plot(np.arange(len(ctrl)), ctrl, color="#0000ff", lw=2.2, zorder=3.5)
    ax.plot(np.arange(len(mean)), mean, color="#ff0000", lw=2.9, zorder=4)

ax.text(1, 13.0, "Temp. 850hPa", fontsize=7.2, va="center", ha="left", zorder=5)
ax.text(1, -12.4, "Temp. 500hPa", fontsize=7.2, va="center", ha="left", zorder=5)
ax.text(1, -42.1, "Précipitations", fontsize=7.2, va="center", ha="left", zorder=5)

# precipitation on the mm axis
ax2 = ax.twinx()
ax2.set_ylim(ylo + 45, yhi + 45)
for s in ["top", "left", "right", "bottom"]:
    ax2.spines[s].set_visible(False)
ax2.set_yticks(range(0, 76, 5))
ax2.tick_params(axis="y", length=0, pad=7.2, labelsize=7.2)

# snow risk band
ax2.axvspan(29.4, 30.8, color="#c4f4f8", lw=0, zorder=1)
ax2.axvline(29.4, color="#8080ff", lw=0.8, zorder=1.1)
ax2.axvline(30.8, color="#8080ff", lw=0.8, zorder=1.1)
tr = blended_transform_factory(ax2.transData, fig.transFigure)
for xb in (29.27, 30.93):
    fig.add_artist(Line2D([xb, xb], [Y(65), 0.0], transform=tr, color="#2080ff", lw=0.9, zorder=10))

for vals, col in zip(pr_members, member_colors):
    ax2.plot(np.arange(len(vals)), vals, color=col, lw=0.8, marker="+", ms=3, mew=0.7, zorder=2)
ax2.plot(np.arange(len(pr_gfs)), pr_gfs, color="black", lw=2.2, zorder=3)
ax2.plot(np.arange(len(pr_ctrl)), pr_ctrl, color="#0000ff", lw=2.2, zorder=3.5)
ax2.plot(np.arange(len(pr_mean)), pr_mean, color="#ff0000", lw=2.9, zorder=4)

ax2.text(30.05, -1.9, snow_risk, rotation=90, ha="center", va="center", fontsize=5.4,
         color="#2060d0", zorder=5)
ax2.text(30.0, -5.6, "\u2744", ha="center", va="center", fontsize=8, color="#60b0f0",
         family="DejaVu Sans", zorder=5)

# date labels
trd = blended_transform_factory(ax.transData, fig.transFigure)
for k, d in enumerate(dates):
    ax.text(4 * k + 0.25, Y(603), d, transform=trd, rotation=90, rotation_mode="anchor",
            ha="right", va="top", fontsize=7.0)

fig.text(X(20), Y(606), "(°c)", fontsize=7.2, va="center")
fig.text(X(702), Y(606), "(mm)", fontsize=7.2, va="center")

# legend
fig.add_artist(Line2D([X(35), X(66)], [Y(631.5)] * 2, color="#ff0000", lw=2.8))
fig.text(X(75), Y(638), "Moyenne des scénarios", fontsize=7.2, va="center")
fig.add_artist(Line2D([X(225), X(254)], [Y(636.5)] * 2, color="#0000ff", lw=2.5))
fig.text(X(263), Y(637.5), "Run de contrôle", fontsize=7.2, va="center")
fig.add_artist(Line2D([X(225), X(254)], [Y(646.5)] * 2, color="black", lw=2.5))
fig.text(X(263), Y(647.5), "Run GFS", fontsize=7.2, va="center")
fig.text(X(60), Y(657), "\u2744", ha="center", va="center", fontsize=9, color="#60b0f0",
         family="DejaVu Sans")
fig.text(X(75), Y(659), "Risque neige (par rapport a tous les scénarios)", fontsize=7.2, va="center")
fig.text(X(369), Y(652), "20 Perturbations", fontsize=7.2, va="center")
for k, (name, col) in enumerate(zip(members, member_colors)):
    x0 = 469 + 11 * k
    fig.add_artist(Rectangle((X(x0), Y(656)), 10 / 740.0, 6 / 700.0, color=col,
                             transform=fig.transFigure))
    fig.text(X(x0 + 5), Y(643), name, ha="center", va="center", fontsize=5.5)

fig.add_artist(Rectangle((X(20), Y(699)), 420 / 740.0, 31 / 700.0, fill=False, ec="black",
                         lw=1.0, transform=fig.transFigure))
fig.text(X(29), Y(677), "Diagramme des ensembles GEFS sur 384h : 50.8N 4.4E", fontsize=8.2,
         weight="bold", va="center")
fig.text(X(29), Y(692), "Températures 850hPa et 500hPa (°C) , précipitations (mm)",
         fontsize=7.2, va="center")
fig.text(X(449), Y(672), "Ensemble GEFS du 26/05/2012 - 00h", fontsize=7.2, va="center")
fig.text(X(449), Y(691), "Copyright 2012 Meteociel.fr", fontsize=8.2, weight="bold", va="center")

fig.savefig("out.png", dpi=100)
plt.close(fig)
